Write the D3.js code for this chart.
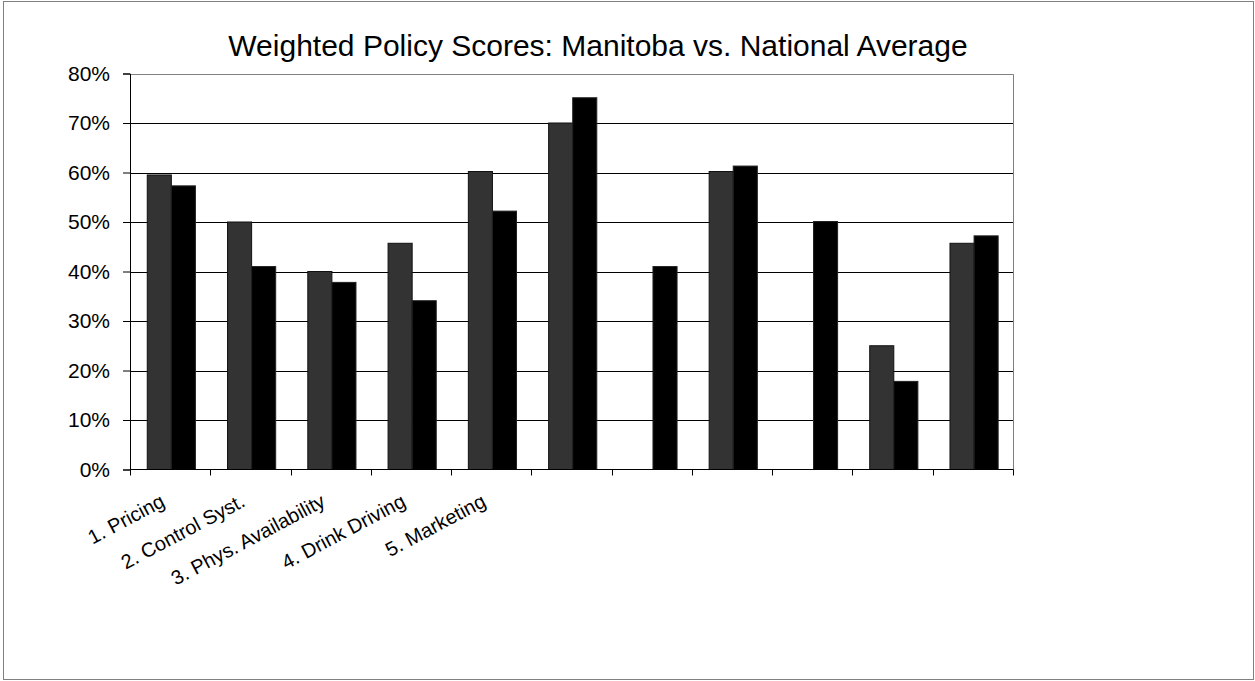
<!DOCTYPE html>
<html>
<head>
<meta charset="utf-8">
<script src="https://cdn.jsdelivr.net/npm/d3@7"></script>
<style>
  body { margin: 0; background: #fff; }
  svg { display: block; font-family: "Liberation Sans", Arial, sans-serif; }
</style>
</head>
<body>
<div id="chart"></div>
<script>
const categories = ["1. Pricing", "2. Control Syst.", "3. Phys. Availability", "4. Drink Driving", "5. Marketing", "", "", "", "", "", ""];
const manitoba = [59.5, 50.0, 40.0, 45.7, 60.2, 70.0, 0, 60.2, 0, 25.0, 45.7];
const national = [57.3, 41.0, 37.8, 34.1, 52.2, 75.1, 41.0, 61.3, 50.1, 17.8, 47.2];
const yTicks = [0, 10, 20, 30, 40, 50, 60, 70, 80];

const width = 1255, height = 681;
const margin = { left: 130, right: 242, top: 73.5, bottom: 211.5 };

const svg = d3.select("#chart").append("svg")
    .attr("width", width)
    .attr("height", height);

svg.append("rect")
    .attr("x", 3.5).attr("y", 1.5)
    .attr("width", 1250).attr("height", 678)
    .attr("fill", "#fff")
    .attr("stroke", "#808080");

const x0 = d3.scaleBand()
    .domain(d3.range(categories.length))
    .range([margin.left, width - margin.right]);

const bw = x0.bandwidth();
const x1 = d3.scaleBand()
    .domain(["Manitoba", "National Average"])
    .range([bw * 0.215, bw * 0.815]);

const y = d3.scaleLinear()
    .domain([0, 80])
    .range([height - margin.bottom, margin.top]);

// gridlines
svg.append("g")
    .selectAll("line")
    .data(yTicks.slice(1, -1))
    .enter()
    .append("line")
    .attr("x1", margin.left).attr("x2", width - margin.right)
    .attr("y1", d => Math.round(y(d)) + 0.5)
    .attr("y2", d => Math.round(y(d)) + 0.5)
    .attr("stroke", "#000");

// plot border (top and right)
svg.append("path")
    .attr("d", `M${margin.left},${Math.round(y(80)) + 0.5}H${width - margin.right + 0.5}V${y(0)}`)
    .attr("fill", "none")
    .attr("stroke", "#808080");

// bars
const groups = svg.append("g")
    .selectAll("g")
    .data(categories.map((c, i) => i))
    .enter()
    .append("g")
    .attr("transform", i => `translate(${x0(i)},0)`);

groups.append("rect")
    .attr("x", x1("Manitoba"))
    .attr("y", i => y(manitoba[i]))
    .attr("width", x1.bandwidth())
    .attr("height", i => y(0) - y(manitoba[i]))
    .attr("fill", "#333333")
    .attr("stroke", "#111")
    .attr("stroke-width", 1)
    .style("display", i => manitoba[i] > 0 ? null : "none");

groups.append("rect")
    .attr("x", x1("National Average"))
    .attr("y", i => y(national[i]))
    .attr("width", x1.bandwidth())
    .attr("height", i => y(0) - y(national[i]))
    .attr("fill", "#000")
    .attr("stroke", "#222")
    .attr("stroke-width", 1)
    .style("display", i => national[i] > 0 ? null : "none");

// y axis
const yAxis = svg.append("g")
    .attr("transform", `translate(${margin.left},0)`)
    .call(d3.axisLeft(y).tickValues(yTicks).tickFormat(d => d + "%").tickSize(7).tickPadding(13));
yAxis.select(".domain").attr("stroke", "#000");
yAxis.selectAll(".tick line").attr("stroke", "#000");
yAxis.selectAll("text")
    .attr("fill", "#000")
    .style("font-size", "21px")
    .style("font-family", "Liberation Sans, Arial, sans-serif");

// x axis with ticks at category boundaries
const xAxisG = svg.append("g").attr("transform", `translate(0,${y(0)})`);
xAxisG.append("line")
    .attr("x1", margin.left).attr("x2", width - margin.right + 0.5)
    .attr("stroke", "#000");
xAxisG.selectAll(".bound")
    .data(d3.range(categories.length + 1))
    .enter()
    .append("line")
    .attr("x1", i => Math.round(margin.left + i * bw) + 0.5)
    .attr("x2", i => Math.round(margin.left + i * bw) + 0.5)
    .attr("y1", 0).attr("y2", 6)
    .attr("stroke", "#000");

xAxisG.selectAll(".lbl")
    .data(categories.map((c, i) => i))
    .enter()
    .append("text")
    .attr("text-anchor", "end")
    .attr("transform", i => `translate(${x0(i) + bw / 2 - 4},${36}) rotate(-28)`)
    .style("font-size", "20px")
    .attr("fill", "#000")
    .text(i => categories[i]);

// title
svg.append("text")
    .attr("x", 598)
    .attr("y", 56)
    .attr("text-anchor", "middle")
    .style("font-size", "30px")
    .text("Weighted Policy Scores: Manitoba vs. National Average");
</script>
</body>
</html>
